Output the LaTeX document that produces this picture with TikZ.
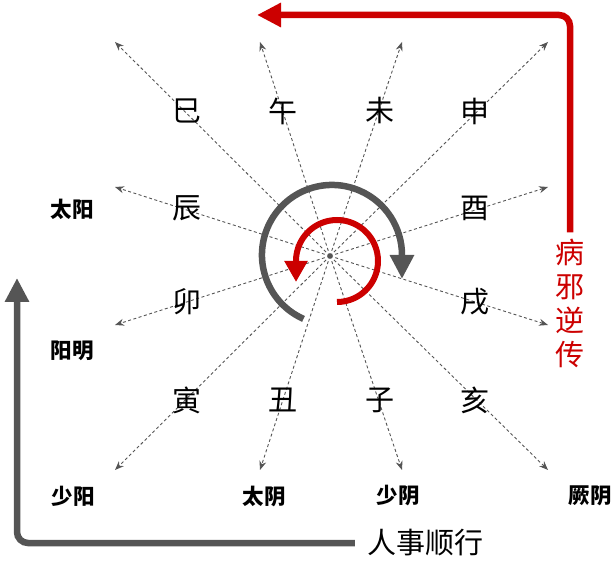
\documentclass[tikz,border=0pt]{standalone}
\usepackage{fontspec}
\setmainfont{Noto Sans CJK SC}
\usetikzlibrary{arrows.meta}
\definecolor{flowred}{HTML}{CC0000}
\definecolor{flowgray}{HTML}{555555}

\begin{document}
\begin{tikzpicture}[x=1pt,y=1pt,
    branch/.style={font=\fontsize{29}{29}\selectfont, inner sep=0pt},
    channel/.style={font=\fontsize{21.5}{21.5}\selectfont\bfseries, inner sep=0pt},
    ray/.style={draw=flowgray, line width=0.9pt, dash pattern=on 3pt off 2.5pt, -{Stealth[length=9pt,width=7pt]}},
    bigarrow/.style={line width=6.5pt, rounded corners=11pt, -{Triangle[length=24pt,width=23pt]}}]

\useasboundingbox (0,0) rectangle (615,567);

\coordinate (c) at (330,311);
\foreach \nm/\px/\py in {o1/115/525, o2/260/525, o3/402/525, o4/548/525,
                         o5/115/380, o6/548/380, o7/115/242, o8/548/242,
                         o9/115/97, o10/260/97, o11/402/97, o12/548/97}
{
    \coordinate (\nm) at (\px,\py);
    \draw[ray] (c) -- (\nm);
}
\fill[flowgray] (c) circle (1.5);

\node[branch] (si)   at (187,456) {巳};
\node[branch] (wu)   at (283,456) {午};
\node[branch] (wei)  at (380,456) {未};
\node[branch] (shen) at (475,456) {申};
\node[branch] (chen) at (187,359) {辰};
\node[branch] (you)  at (475,359) {酉};
\node[branch] (mao)  at (187,265) {卯};
\node[branch] (xu)   at (475,265) {戌};
\node[branch] (yin)  at (187,167) {寅};
\node[branch] (chou) at (283,167) {丑};
\node[branch] (zi)   at (380,167) {子};
\node[branch] (hai)  at (475,167) {亥};

\node[channel] (taiyang)  at (72,358) {太阳};
\node[channel] (yangming) at (72,216) {阳明};
\node[channel] (shaoyang) at (73,71)  {少阳};
\node[channel] (taiyin)   at (264,71) {太阴};
\node[channel] (shaoyin)  at (398,71) {少阴};
\node[channel] (jueyin)   at (590,71) {厥阴};

% inner circles
\draw[flowgray, line width=6.5pt, -{Triangle[length=24pt,width=23pt]}]
    (303.5,248.1) arc[start angle=246, end angle=0, radius=70] -- ++(0,-24);
\draw[flowred, line width=6pt, -{Triangle[length=21pt,width=22pt]}]
    (337,265) arc[start angle=-90, end angle=180, radius=41] -- ++(0,-21);

% outer arrows
\node[branch, inner sep=0pt] (fwd) at (425,24) {人事顺行};
\coordinate (upend) at (17,289);
\draw[bigarrow, flowgray] ([xshift=-12pt]fwd.west) -| (upend);

\node[branch, text=flowred, align=center, font=\fontsize{29}{34}\selectfont] (rev) at (570,264) {病\\邪\\逆\\传};
\coordinate (backend) at (257,552);
\draw[bigarrow, flowred] ([yshift=6pt]rev.north) |- (backend);
\end{tikzpicture}
\end{document}
